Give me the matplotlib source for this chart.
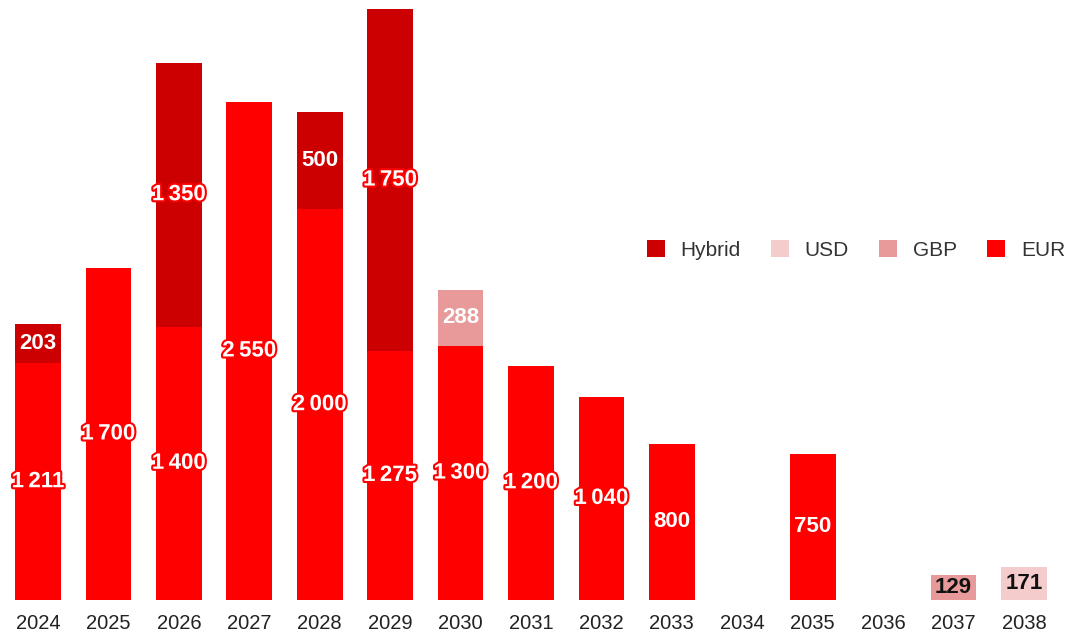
import matplotlib
matplotlib.use("Agg")
from matplotlib import pyplot as plt
from matplotlib.patches import Patch
import matplotlib.patheffects as pe
import numpy as np

plt.rcParams['font.family'] = ['Liberation Sans', 'DejaVu Sans']

years = ["2024", "2025", "2026", "2027", "2028", "2029", "2030", "2031",
         "2032", "2033", "2034", "2035", "2036", "2037", "2038"]
eur = [1211, 1700, 1400, 2550, 2000, 1275, 1300, 1200, 1040, 800, 0, 750, 0, 0, 0]
gbp = [0, 0, 0, 0, 0, 0, 288, 0, 0, 0, 0, 0, 0, 129, 0]
usd = [0, 0, 0, 0, 0, 0, 0, 0, 0, 0, 0, 0, 0, 0, 171]
hybrid = [203, 0, 1350, 0, 500, 1750, 0, 0, 0, 0, 0, 0, 0, 0, 0]

series = [
    ("EUR", eur, "#FF0000"),
    ("GBP", gbp, "#E89A9A"),
    ("USD", usd, "#F4CCCC"),
    ("Hybrid", hybrid, "#CC0000"),
]

W, H = 1066, 631
fig = plt.figure(figsize=(W / 100, H / 100), dpi=100)
ax = fig.add_axes([2.8 / W, 31 / H, 1056.4 / W, 600 / H])

x = np.arange(len(years))
bottom = np.zeros(len(years))
handles = {}


def fmt(v):
    return "{:,}".format(v).replace(",", "\u2009")


for name, vals, color in series:
    vals = np.array(vals, dtype=float)
    ax.bar(x, vals, width=0.65, bottom=bottom, color=color, linewidth=0)
    for i, v in enumerate(vals):
        if v <= 0:
            continue
        yc = bottom[i] + v / 2
        # small light segments get dark labels
        if (name == "GBP" and v < 200) or name == "USD":
            tcol = "#111111"
            effects = []
        else:
            tcol = "white"
            effects = [pe.withStroke(linewidth=3, foreground="#FF0000")] if v >= 1000 else []
        ax.text(x[i], yc, fmt(int(v)), ha="center", va="center", fontsize=16,
                fontweight="bold", color=tcol, path_effects=effects)
    bottom += vals
    handles[name] = Patch(facecolor=color, edgecolor="none")

ax.set_xlim(-0.5, len(years) - 0.5)
ax.set_ylim(0, 3072)
ax.set_xticks(x)
ax.set_xticklabels(years, fontsize=14.5, color="#222222")
ax.tick_params(axis="x", length=0, pad=10)
ax.set_yticks([])
for s in ax.spines.values():
    s.set_visible(False)

order = ["Hybrid", "USD", "GBP", "EUR"]
fig.legend([handles[n] for n in order], order, loc="center",
           bbox_to_anchor=(856 / W, 1 - 250 / H), ncol=4, frameon=False,
           fontsize=15, handlelength=0.87, handleheight=0.87, handletextpad=0.75,
           columnspacing=1.45, labelcolor="#333333")

fig.savefig("out.png", dpi=100)
